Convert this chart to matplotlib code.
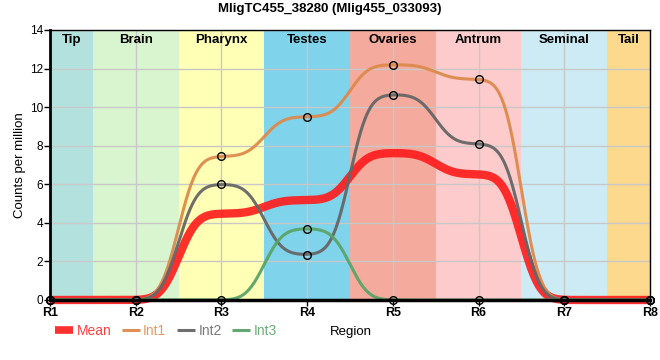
import math
import numpy as np
import matplotlib
matplotlib.use('Agg')
import matplotlib.pyplot as plt
from matplotlib.lines import Line2D

plt.rcParams['font.family'] = ['Liberation Sans', 'DejaVu Sans']

title = 'MligTC455_38280 (Mlig455_033093)'
regions = ['R1', 'R2', 'R3', 'R4', 'R5', 'R6', 'R7', 'R8']
band_names = ['Tip', 'Brain', 'Pharynx', 'Testes', 'Ovaries', 'Antrum', 'Seminal', 'Tail']
band_colours = ['#b3e2de', '#d9f5d0', '#ffffb5', '#7fd3ea',
                '#f4aa9c', '#fdcbcb', '#cdebf5', '#fdd98d']

int1 = [0, 0, 7.45, 9.5, 12.2, 11.45, 0, 0]
int2 = [0, 0, 6.0, 2.35, 10.65, 8.1, 0, 0]
int3 = [0, 0, 0, 3.7, 0, 0, 0, 0]
mean = [0, 0, 4.48, 5.18, 7.62, 6.52, 0, 0]

_erf = np.vectorize(math.erf)


def smooth(values, xs, sigma=0.17):
    """Step function (one value per region) blurred with a gaussian."""
    n = len(values)
    cdf = lambda e: 0.5 * (1 + _erf((xs - e) / (sigma * math.sqrt(2))))
    out = np.zeros_like(xs)
    for i, v in enumerate(values):
        lo = cdf(i - 0.5) if i > 0 else 1.0
        hi = cdf(i + 0.5) if i < n - 1 else 0.0
        out += v * (lo - hi)
    return out


fig = plt.figure(figsize=(6.6, 3.6), dpi=100)
ax = fig.add_axes([50 / 660, 60 / 360, 600 / 660, 270 / 360])

pos = np.arange(len(regions))
xs = np.linspace(0, len(regions) - 1, 600)

# Region bands
for i, (name, col) in enumerate(zip(band_names, band_colours)):
    lo = max(i - 0.5, 0)
    hi = min(i + 0.5, len(regions) - 1)
    ax.axvspan(lo, hi, color=col, lw=0, zorder=0)
    ax.text((lo + hi) / 2, 0.963, name, transform=ax.get_xaxis_transform(),
            ha='center', va='center', fontsize=9.5, fontweight='bold', zorder=6)

ax.grid(True, color='#c8c8c8', lw=1, zorder=1)
ax.set_axisbelow(True)

series = [
    ('Mean', mean, '#ff1a1a', 6.0, 0.9),
    ('Int1', int1, '#dd8a4c', 2.2, 0.95),
    ('Int2', int2, '#666666', 2.2, 0.95),
    ('Int3', int3, '#5aa468', 2.2, 0.95),
]
for name, vals, col, lw, al in series:
    ax.plot(xs, smooth(vals, xs), color=col, lw=lw, alpha=al,
            solid_capstyle='butt', zorder=3, clip_on=False)
    if name != 'Mean':
        ax.plot(pos, vals, 'o', ms=5.5, mfc='none', mec='black', mew=1,
                zorder=5, clip_on=False)

ax.set_xlim(0, len(regions) - 1)
ax.set_ylim(0, 14)
ax.set_xticks(pos)
ax.set_xticklabels(regions, fontsize=9, fontweight='bold')
ax.set_yticks(np.arange(0, 15, 2))
ax.tick_params(axis='y', labelsize=8.5, length=4, width=1, pad=1)
ax.tick_params(axis='x', length=4, width=1, pad=1)
ax.set_ylabel('Counts per million', fontsize=9.5, labelpad=3)

for side in ('top', 'right'):
    ax.spines[side].set_linewidth(1)
ax.spines['left'].set_linewidth(2)
ax.spines['bottom'].set_linewidth(2.5)
for sp in ax.spines.values():
    sp.set_zorder(4)

fig.suptitle(title, x=0.5, y=1 - 9 / 360, va='center',
             fontsize=9.5, fontweight='bold')

handles = [Line2D([], [], color=c, lw=lw, alpha=al, solid_capstyle='butt')
           for _, _, c, lw, al in series]
handles[0].set_linewidth(5.5)
fig.legend(handles, [s[0] for s in series], loc='center left',
           bbox_to_anchor=(55 / 660, 1 - 331 / 360), ncol=4, frameon=False,
           fontsize=10, handlelength=1.3, handletextpad=0.25,
           columnspacing=0.75, borderpad=0, borderaxespad=0,
           labelcolor=['#ff4040', '#e49a64', '#7a7a7a', '#6aae78'])
fig.text(351 / 660, 1 - 332 / 360, 'Region', ha='center', va='center',
         fontsize=9.5)

fig.savefig('out.png', dpi=100)
